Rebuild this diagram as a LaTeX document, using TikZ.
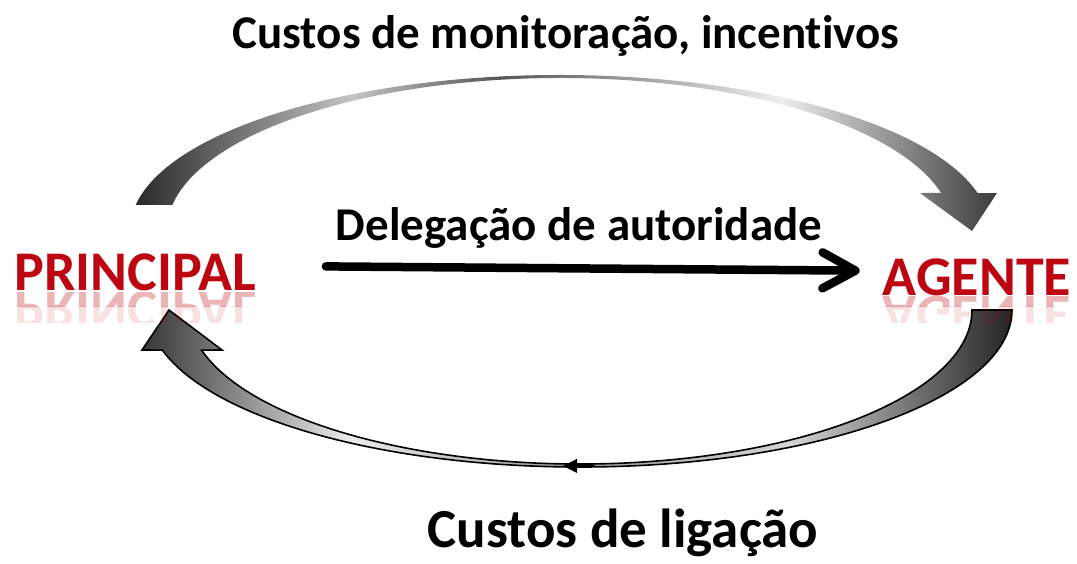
\documentclass[tikz,border=0pt]{standalone}
\usepackage{fontspec}
\setmainfont{Carlito}[Ligatures=NoCommon]
\usetikzlibrary{arrows.meta,positioning,calc}

\definecolor{actorred}{RGB}{188,6,18}
\definecolor{topA}{HTML}{2A2A2A}
\definecolor{topB}{HTML}{C4C4C4}
\definecolor{topC}{HTML}{555555}
\definecolor{topD}{HTML}{EEEEEE}
\definecolor{topE}{HTML}{3C3C3C}
\definecolor{botA}{HTML}{363636}
\definecolor{botB}{HTML}{ECECEC}
\definecolor{botC}{HTML}{9A9A9A}
\definecolor{botD}{HTML}{D4D4D4}
\definecolor{botE}{HTML}{242424}

\pgfdeclarehorizontalshading{toparc}{100bp}{color(0bp)=(topA); color(25bp)=(topA);
  color(37.6bp)=(topB); color(46.1bp)=(topC); color(62.4bp)=(topD);
  color(75bp)=(topE); color(100bp)=(topE)}
\pgfdeclarehorizontalshading{botarc}{100bp}{color(0bp)=(botA); color(25bp)=(botA);
  color(37bp)=(botB); color(49.6bp)=(botC); color(62.2bp)=(botD);
  color(75bp)=(botE); color(100bp)=(botE)}

\begin{document}
\begin{tikzpicture}[x=1pt,y=-1pt,
                    every node/.style={inner sep=0pt,anchor=base},
                    caption/.style={font=\bfseries\fontsize{#1}{#1}\selectfont},
                    actor/.style={font=\bfseries\fontsize{56}{56}\selectfont,text=actorred},
                    mirror/.style={actor,yscale=-1,opacity=#1},
                    deleg/.style={line width=8.5pt,line cap=round,
                                  -{Straight Barb[length=33pt,width=36pt,round]}}]

\useasboundingbox (0,0) rectangle (1077,563);

\coordinate (topc) at (560,230);
\coordinate (botc) at (580,310);

% monitoring arc
\shade[shading=toparc] ($(topc)+(189.3:430 and 155)$)
    arc[start angle=189.3,end angle=346.2,x radius=430,y radius=155]
    -- (997,193) -- (972,231) -- (920,193)
    -- ($(topc)+(345.9:393 and 152)$)
    arc[start angle=345.9,end angle=189.5,x radius=393,y radius=152] -- cycle;

% bonding arc
\shadedraw[shading=botarc,line width=1.6pt] ($(botc)+(0:432 and 157)$)
    arc[start angle=0,end angle=165.2,x radius=432,y radius=157]
    -- (142,350) -- (169,310) -- (222,350)
    -- ($(botc)+(164.9:392 and 154)$)
    arc[start angle=164.9,end angle=0,x radius=392,y radius=154] -- cycle;
\coordinate (midtip) at ($(botc)+(88:434 and 156)$);
\draw[line width=1pt,-{Triangle[length=14pt,width=14pt]}] (midtip) -- ++(-32,0);

\node[caption=47] (monitor) at (566,48) {Custos de monitoração, incentivos};
\node[caption=47] (delegacao) at (579,240) {Delegação de autoridade};
\node[caption=55] (ligacao) at (623,547) {Custos de ligação};

\node[actor] (principal) at (135,290) {PRINCIPAL};
\node[actor] (agente) at (977,295) {AGENTE};

% reflections
\begin{scope}
\clip (0,292) rectangle (1077,306);
\node[mirror=0.3] (principalrefl) at (135,291) {PRINCIPAL};
\node[mirror=0.3] (agenterefl) at (977,296) {AGENTE};
\end{scope}
\begin{scope}
\clip (0,306) rectangle (1077,322);
\node[mirror=0.12] (principalrefl2) at (135,291) {PRINCIPAL};
\node[mirror=0.12] (agenterefl2) at (977,296) {AGENTE};
\end{scope}

\draw[deleg,shorten <=70pt,shorten >=23pt] ([yshift=6pt]principal.east) -- ([yshift=6pt]agente.west);

\end{tikzpicture}
\end{document}
